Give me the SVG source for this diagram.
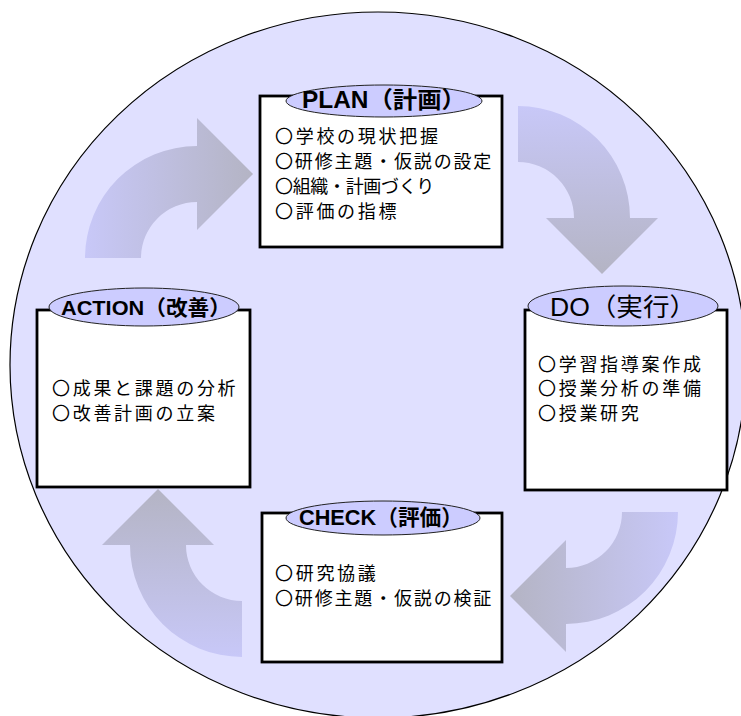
<svg xmlns="http://www.w3.org/2000/svg" width="741" height="716" viewBox="0 0 741 716">
<defs>
<linearGradient id="g1" x1="0" y1="0" x2="1" y2="0"><stop offset="0" stop-color="#C8C8F8"/><stop offset="1" stop-color="#B4B4C4"/></linearGradient>
<linearGradient id="g2" x1="0" y1="0" x2="0" y2="1"><stop offset="0" stop-color="#C8C8F8"/><stop offset="1" stop-color="#B4B4C4"/></linearGradient>
<linearGradient id="g3" x1="1" y1="0" x2="0" y2="0"><stop offset="0" stop-color="#C8C8F8"/><stop offset="1" stop-color="#B4B4C4"/></linearGradient>
<linearGradient id="g4" x1="0" y1="1" x2="0" y2="0"><stop offset="0" stop-color="#C8C8F8"/><stop offset="1" stop-color="#B4B4C4"/></linearGradient>
</defs>
<style>
.bg{fill:#E0E0FF;stroke:#000;stroke-width:1.2}
.box{fill:#fff;stroke:#000;stroke-width:2.8}
.lab{fill:#CCCCFF;stroke:#222;stroke-width:1}
.lt{font-family:"Liberation Sans","Noto Sans CJK JP",sans-serif;fill:#000;text-anchor:middle}
.b{font-weight:bold}
.t{font-family:"Noto Sans CJK JP","Noto Sans CJK SC",sans-serif;font-size:18px;letter-spacing:2.7px;fill:#000}
</style>
<g id="background"><ellipse class="bg" cx="378" cy="365" rx="368" ry="353"/></g>
<g id="connectors">
<path fill="url(#g1)" d="M 85,258 A 112 112 0 0 1 197,146 L 197,118 L 253,174 L 197,230 L 197,202 A 56 56 0 0 0 141,258 Z"/>
<path fill="url(#g2)" d="M 518,106 A 112 112 0 0 1 630,218 L 658,218 L 602,274 L 546,218 L 574,218 A 56 56 0 0 0 518,162 Z"/>
<path fill="url(#g3)" d="M 678,512 A 112 112 0 0 1 566,624 L 566,652 L 510,596 L 566,540 L 566,568 A 56 56 0 0 0 622,512 Z"/>
<path fill="url(#g4)" d="M 242,657 A 112 112 0 0 1 130,545 L 102,545 L 158,489 L 214,545 L 186,545 A 56 56 0 0 0 242,601 Z"/>
</g>
<g id="plan">
<rect class="box" x="260" y="96" width="242" height="151"/>
<ellipse class="lab" cx="384" cy="101" rx="98" ry="16"/>
<text class="lt b" x="384" y="108" font-size="23" textLength="164" lengthAdjust="spacingAndGlyphs">PLAN（計画）</text>
<text class="t" x="275" y="143">〇学校の現状把握</text>
<text class="t" x="275" y="168" textLength="219" lengthAdjust="spacing">〇研修主題・仮説の設定</text>
<text class="t" x="275" y="193" textLength="162" lengthAdjust="spacing">〇組織・計画づくり</text>
<text class="t" x="275" y="218">〇評価の指標</text>
</g>
<g id="do">
<rect class="box" x="525" y="310" width="202" height="180"/>
<ellipse class="lab" cx="623" cy="306" rx="95" ry="20"/>
<text class="lt" x="623" y="316" font-size="25" textLength="146" lengthAdjust="spacingAndGlyphs">DO（実行）</text>
<text class="t" x="538" y="371">〇学習指導案作成</text>
<text class="t" x="538" y="395">〇授業分析の準備</text>
<text class="t" x="538" y="420">〇授業研究</text>
</g>
<g id="action">
<rect class="box" x="37" y="310" width="213" height="177"/>
<ellipse class="lab" cx="144" cy="307" rx="95" ry="19"/>
<text class="lt b" x="146" y="315" font-size="21" textLength="170" lengthAdjust="spacingAndGlyphs">ACTION（改善）</text>
<text class="t" x="52" y="395">〇成果と課題の分析</text>
<text class="t" x="52" y="420">〇改善計画の立案</text>
</g>
<g id="check">
<rect class="box" x="262" y="513" width="240" height="149"/>
<ellipse class="lab" cx="383" cy="518" rx="97" ry="17"/>
<text class="lt b" x="381" y="525" font-size="22" textLength="164" lengthAdjust="spacingAndGlyphs">CHECK（評価）</text>
<text class="t" x="275" y="580">〇研究協議</text>
<text class="t" x="275" y="605" textLength="219" lengthAdjust="spacing">〇研修主題・仮説の検証</text>
</g>
</svg>
